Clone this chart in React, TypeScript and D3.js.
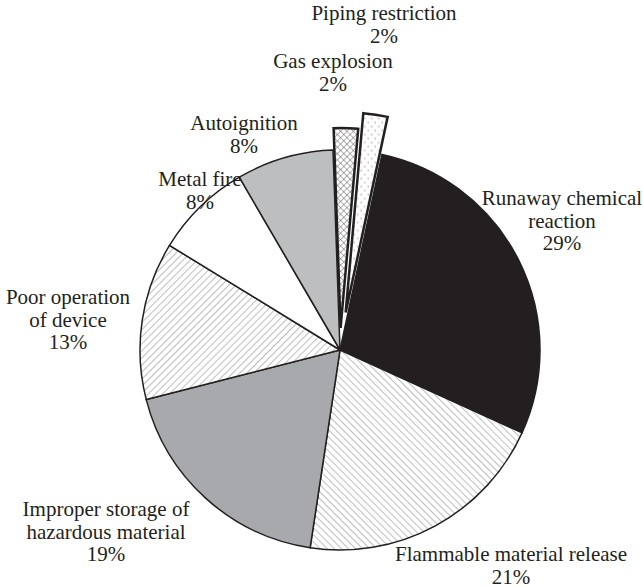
import React from "react";
import * as d3 from "d3";

// Causes of accidents, in drawing order (clockwise from 12 o'clock)
const categories = [
  "Gas explosion",
  "Piping restriction",
  "Runaway chemical reaction",
  "Flammable material release",
  "Improper storage of hazardous material",
  "Poor operation of device",
  "Metal fire",
  "Autoignition",
];
const shares = [2, 2, 29, 21, 19, 13, 8, 8];
const labelLines = [
  ["Gas explosion", "2%"],
  ["Piping restriction", "2%"],
  ["Runaway chemical", "reaction", "29%"],
  ["Flammable material release", "21%"],
  ["Improper storage of", "hazardous material", "19%"],
  ["Poor operation", "of device", "13%"],
  ["Metal fire", "8%"],
  ["Autoignition", "8%"],
];
// Label anchor (centre x, first baseline y)
const labelPos: [number, number][] = [
  [333, 68],
  [384, 20],
  [562, 205],
  [511, 561],
  [106, 516],
  [68, 304],
  [200, 186],
  [244, 130],
];
const fills = [
  "url(#cross)",
  "url(#dots)",
  "#231f20",
  "url(#hatchBack)",
  "#a7a9ac",
  "url(#hatchFwd)",
  "#ffffff",
  "#bcbec0",
];
// Radial offset for the pulled-out slices
const explode = [22, 38, 0, 0, 0, 0, 0, 0];

const W = 643;
const H = 587;
const cx = 340;
const cy = 350;
const R = 200;
const startDeg = -2;
const serif = '"Liberation Serif", "Times New Roman", serif';

export default function App() {
  const pie = d3
    .pie<number>()
    .sort(null)
    .value((d) => d)
    .startAngle((startDeg * Math.PI) / 180)
    .endAngle(((startDeg + 360) * Math.PI) / 180);
  const arcs = pie(shares);
  const arc = d3.arc<d3.PieArcDatum<number>>().innerRadius(0).outerRadius(R);

  return (
    <svg
      width={W}
      height={H}
      style={{ position: "absolute", left: 0, top: 0, background: "#fff" }}
    >
      <defs>
        <pattern id="hatchFwd" patternUnits="userSpaceOnUse" width={5} height={5} patternTransform="rotate(45)">
          <rect width={5} height={5} fill="#fff" />
          <line x1={0} y1={0} x2={0} y2={5} stroke="#6d6e71" strokeWidth={0.9} />
        </pattern>
        <pattern id="hatchBack" patternUnits="userSpaceOnUse" width={5} height={5} patternTransform="rotate(-45)">
          <rect width={5} height={5} fill="#fff" />
          <line x1={0} y1={0} x2={0} y2={5} stroke="#6d6e71" strokeWidth={0.9} />
        </pattern>
        <pattern id="cross" patternUnits="userSpaceOnUse" width={4.5} height={4.5} patternTransform="rotate(45)">
          <rect width={4.5} height={4.5} fill="#fff" />
          <line x1={0} y1={0} x2={0} y2={4.5} stroke="#414042" strokeWidth={0.8} />
          <line x1={0} y1={0} x2={4.5} y2={0} stroke="#414042" strokeWidth={0.8} />
        </pattern>
        <pattern id="dots" patternUnits="userSpaceOnUse" width={7} height={8}>
          <rect width={7} height={8} fill="#fff" />
          <circle cx={1.5} cy={2} r={0.6} fill="#414042" />
          <circle cx={5} cy={6} r={0.6} fill="#414042" />
        </pattern>
      </defs>
      <g transform={`translate(${cx},${cy})`}>
        {arcs.map((a, i) => {
          const mid = (a.startAngle + a.endAngle) / 2;
          const dx = Math.sin(mid) * explode[i];
          const dy = -Math.cos(mid) * explode[i];
          return (
            <path
              key={categories[i]}
              d={arc(a) || ""}
              transform={`translate(${dx},${dy})`}
              fill={fills[i]}
              stroke="#231f20"
              strokeWidth={explode[i] > 0 ? 2.5 : 1.5}
              strokeLinejoin="miter"
            />
          );
        })}
      </g>
      <g fill="#231f20" textAnchor="middle" style={{ fontFamily: serif, fontSize: "21px" }}>
        {labelLines.map((lines, i) => (
          <text key={categories[i]} x={labelPos[i][0]} y={labelPos[i][1]}>
            {lines.map((l, j) => (
              <tspan key={j} x={labelPos[i][0]} dy={j === 0 ? 0 : 22.5}>
                {l}
              </tspan>
            ))}
          </text>
        ))}
      </g>
    </svg>
  );
}
